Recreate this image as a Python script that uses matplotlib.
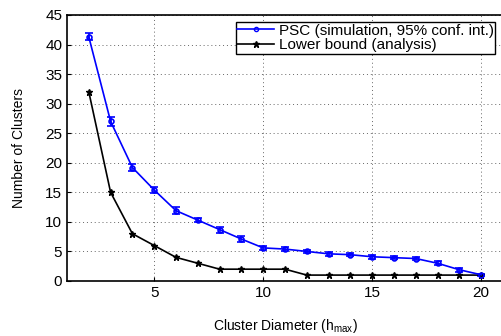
import matplotlib
matplotlib.use("Agg")
import matplotlib.pyplot as plt
from matplotlib.lines import Line2D

plt.rcParams['font.family'] = ['Liberation Sans', 'DejaVu Sans']

x = list(range(2, 21))
psc = [41.3, 27.0, 19.2, 15.4, 11.9, 10.3, 8.7, 7.1, 5.6, 5.4, 5.0, 4.6, 4.45, 4.1, 3.95, 3.8, 3.0, 1.9, 1.05]
psc_err = [0.6, 0.7, 0.6, 0.5, 0.6, 0.4, 0.5, 0.5, 0.4, 0.4, 0.3, 0.3, 0.3, 0.3, 0.3, 0.3, 0.3, 0.3, 0.2]
lower = [32, 15, 8, 6, 4, 3, 2, 2, 2, 2, 1, 1, 1, 1, 1, 1, 1, 1, 1]

xticks = [5, 10, 15, 20]
yticks = [0, 5, 10, 15, 20, 25, 30, 35, 40, 45]

fig = plt.figure(figsize=(5.01, 3.36), dpi=100)
ax = fig.add_axes([67/501, 55/336, 436/501, 266/336])

ax.errorbar(x, psc, yerr=psc_err, color='#0000ff', marker='o', markersize=3.5,
            markerfacecolor='none', markeredgewidth=1.2, linewidth=1.2, capsize=3,
            zorder=3)
ax.plot(x, lower, color='black', marker='*', markersize=5, linewidth=1.2, zorder=3)

ax.set_xlim(1, 21)
ax.set_ylim(0, 45)
ax.set_xticks(xticks)
ax.set_yticks(yticks)
ax.tick_params(labelsize=11, direction='in', length=3, width=0.8)
ax.grid(True, linestyle=(0, (1, 3)), color='#666666', linewidth=0.7)
for s in ax.spines.values():
    s.set_linewidth(1.2)

ax.set_xlabel('Cluster Diameter (h$_{\\mathregular{max}}$)', fontsize=10, labelpad=12)
ax.set_ylabel('Number of Clusters', fontsize=10, labelpad=14)

handles = [
    Line2D([], [], color='#0000ff', marker='o', markersize=3, markerfacecolor='none', linewidth=1.2),
    Line2D([], [], color='black', marker='*', markersize=5, linewidth=1.2),
]
labels = ['PSC (simulation, 95% conf. int.)', 'Lower bound (analysis)']
leg = ax.legend(handles, labels, loc='upper right', bbox_to_anchor=(494/503, 0.973), fontsize=11,
                fancybox=False, edgecolor='black', framealpha=1, borderpad=0.1,
                labelspacing=0.05, handlelength=2.4, handletextpad=0.3, borderaxespad=0)
leg.get_frame().set_linewidth(1.0)

fig.savefig('out.png', dpi=100)
